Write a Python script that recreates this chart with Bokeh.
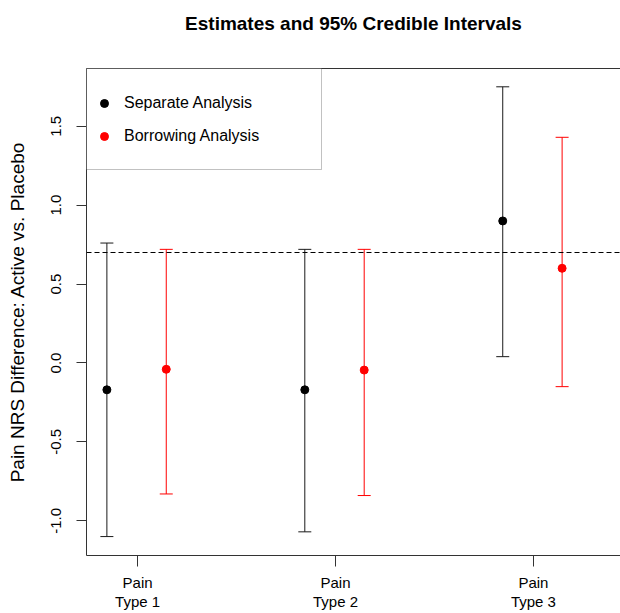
from bokeh.plotting import figure
from bokeh.models import (ColumnDataSource, Whisker, TeeHead, Span, Legend, LegendItem,
                          Range1d, FixedTicker, LinearAxis, BoxAnnotation, PrintfTickFormatter)
from bokeh.embed import file_html
from bokeh.resources import INLINE

# ---- data ----
chart_title = "Estimates and 95% Credible Intervals"
categories = ["Pain\nType 1", "Pain\nType 2", "Pain\nType 3"]
positions = [1, 2, 3]
sep_est = [-0.17, -0.17, 0.90]
sep_lo = [-1.10, -1.07, 0.04]
sep_hi = [0.76, 0.72, 1.75]
bor_est = [-0.04, -0.045, 0.60]
bor_lo = [-0.83, -0.84, -0.15]
bor_hi = [0.72, 0.72, 1.43]
reference_line = 0.70
y_ticks = [-1.0, -0.5, 0.0, 0.5, 1.0, 1.5]
series_names = ["Separate Analysis", "Borrowing Analysis"]

SEP_OFF, BOR_OFF = -0.155, 0.145
SEP_COL, BOR_COL = "#1a1a1a", "#ff0000"
FONT = "Liberation Sans"

p = figure(width=620, height=613, output_backend="svg", toolbar_location=None,
           x_range=Range1d(0.742, 3.44), y_range=Range1d(-1.22, 1.866),
           x_axis_type=None, y_axis_type=None,
           min_border_left=86, min_border_right=0, min_border_top=68, min_border_bottom=54)
p.outline_line_color = None
p.background_fill_color = "white"
p.border_fill_color = "white"
p.title.text = ""

# axes
xaxis = LinearAxis(ticker=FixedTicker(ticks=positions),
                   major_label_overrides={pos: lab for pos, lab in zip(positions, categories)})
xaxis.major_tick_out = 11
xaxis.major_tick_in = 0
xaxis.minor_tick_line_color = None
xaxis.major_label_text_font = FONT
xaxis.major_label_text_font_size = "15px"
xaxis.major_label_text_line_height = 1.15
xaxis.major_label_standoff = 7
xaxis.major_label_text_color = "black"
xaxis.axis_line_color = "#333333"
xaxis.major_tick_line_color = "#333333"
p.add_layout(xaxis, "below")

yaxis = LinearAxis(ticker=FixedTicker(ticks=y_ticks),
                   axis_label="Pain NRS Difference: Active vs. Placebo",
                   formatter=PrintfTickFormatter(format="%.1f"))
yaxis.major_tick_out = 10
yaxis.major_tick_in = 0
yaxis.minor_tick_line_color = None
yaxis.major_label_orientation = "vertical"
yaxis.major_label_text_font = FONT
yaxis.major_label_text_font_size = "15px"
yaxis.major_label_standoff = 15
yaxis.major_label_text_color = "black"
yaxis.axis_label_text_font = FONT
yaxis.axis_label_text_font_size = "19px"
yaxis.axis_label_text_font_style = "normal"
yaxis.axis_label_text_color = "black"
yaxis.axis_label_standoff = 21
yaxis.axis_line_color = "#333333"
yaxis.major_tick_line_color = "#333333"
p.add_layout(yaxis, "left")

# top border line (no ticks) carrying the chart title
top_axis = LinearAxis(ticker=FixedTicker(ticks=[]), axis_label=chart_title)
top_axis.major_label_text_font_size = "0px"
top_axis.major_tick_line_color = None
top_axis.minor_tick_line_color = None
top_axis.major_tick_out = 0
top_axis.major_tick_in = 0
top_axis.major_label_standoff = 0
top_axis.axis_line_color = "#333333"
top_axis.axis_label_text_font = FONT
top_axis.axis_label_text_font_style = "bold"
top_axis.axis_label_text_font_size = "19px"
top_axis.axis_label_text_color = "black"
top_axis.axis_label_standoff = 35
p.add_layout(top_axis, "above")

p.xgrid.visible = False
p.ygrid.visible = False

# reference line
p.add_layout(Span(location=reference_line, dimension="width", line_color="black",
                  line_width=1, line_dash="5 3"))

# data sources
sep_src = ColumnDataSource(dict(x=[v + SEP_OFF for v in positions], est=sep_est, lo=sep_lo, hi=sep_hi))
bor_src = ColumnDataSource(dict(x=[v + BOR_OFF for v in positions], est=bor_est, lo=bor_lo, hi=bor_hi))

for src, col in ((sep_src, SEP_COL), (bor_src, BOR_COL)):
    w = Whisker(source=src, base="x", lower="lo", upper="hi", dimension="height",
                line_color=col, line_width=1,
                upper_head=TeeHead(size=13, line_color=col, line_width=1),
                lower_head=TeeHead(size=13, line_color=col, line_width=1))
    p.add_layout(w)

r_sep = p.scatter("x", "est", source=sep_src, size=8, color="black", marker="circle")
r_bor = p.scatter("x", "est", source=bor_src, size=8, color=BOR_COL, marker="circle")

# legend box
box = BoxAnnotation(left=86, right=321, top=68, bottom=169,
                    left_units="canvas", right_units="canvas", top_units="canvas", bottom_units="canvas",
                    fill_color="white", fill_alpha=1.0, line_color="#333333", line_width=1)
p.add_layout(box)

legend = Legend(items=[LegendItem(label=series_names[0], renderers=[r_sep]),
                       LegendItem(label=series_names[1], renderers=[r_bor])],
                location=(8, 408), padding=0, margin=0, spacing=11,
                glyph_width=20, glyph_height=22, label_height=22, label_standoff=10,
                border_line_color=None, background_fill_alpha=0,
                label_text_font=FONT, label_text_font_size="16px", label_text_color="black")
p.add_layout(legend)

open("out.html", "w").write(file_html(p, INLINE))
